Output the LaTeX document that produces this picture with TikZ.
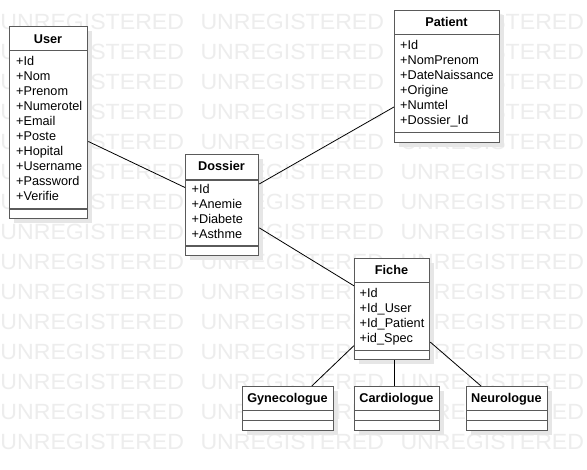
\documentclass[tikz,border=0pt]{standalone}
\usepackage{fontspec}
\setmainfont{Liberation Sans}
\usetikzlibrary{calc}
\definecolor{wmark}{HTML}{EDEDED}
\definecolor{shadowc}{HTML}{E6E6E6}
\definecolor{borderc}{HTML}{5A5A5A}
\tikzset{
  umlbox/.style={draw=borderc, line width=1.3pt, fill=white, rectangle, inner sep=0pt, anchor=north west},
  sepline/.style={draw=borderc, line width=1.3pt},
  shadowbox/.style={fill=shadowc},
  umltitle/.style={font=\fontsize{12.7}{15}\selectfont\bfseries, inner sep=0pt, anchor=base},
  umlattr/.style={font=\fontsize{12.7}{15}\selectfont, inner sep=0pt, anchor=base west},
  wmtext/.style={font=\fontsize{22}{22}\selectfont, text=wmark, inner sep=0pt, anchor=base west},
  assoc/.style={draw=black, line width=0.8pt}
}
\begin{document}
\begin{tikzpicture}[x=1pt,y=-1pt]
\useasboundingbox (0,0) rectangle (587,470);
\fill[white] (0,0) rectangle (587,470);
% watermark
\foreach \r in {0,...,14}{
  \foreach \c [count=\j] in {0.3,200.3,400.3}{
    \node[wmtext] (wm-\r-\j) at (\c,{29.5+30*\r}) {\scalebox{1.05}[1]{UNREGISTERED}};
  }
}
% ---------- boxes: shadow, frame, separators
% User
\fill[shadowbox] (14,31) rectangle (92,223);
\node[umlbox, minimum width=78pt, minimum height=192pt] (user) at (9,26) {};
\draw[sepline] (9,50.7) -- (87,50.7);
\draw[sepline] (9,209) -- (87,209);
% Patient
\fill[shadowbox] (399,15) rectangle (504,147);
\node[umlbox, minimum width=105pt, minimum height=132pt] (patient) at (394,10) {};
\draw[sepline] (394,34.3) -- (499,34.3);
\draw[sepline] (394,132.3) -- (499,132.3);
% Dossier
\fill[shadowbox] (190,159) rectangle (263,260);
\node[umlbox, minimum width=73pt, minimum height=101pt] (dossier) at (185,154) {};
\draw[sepline] (185,180) -- (258,180);
\draw[sepline] (185,246) -- (258,246);
% Fiche
\fill[shadowbox] (359,263) rectangle (434,364);
\node[umlbox, minimum width=75pt, minimum height=101pt] (fiche) at (354,258) {};
\draw[sepline] (354,282.7) -- (429,282.7);
\draw[sepline] (354,350.7) -- (429,350.7);
% Gynecologue
\fill[shadowbox] (247,391) rectangle (338,435);
\node[umlbox, minimum width=91pt, minimum height=44pt] (gyn) at (242,386) {};
\draw[sepline] (242,410.7) -- (333,410.7);
\draw[sepline] (242,420.3) -- (333,420.3);
% Cardiologue
\fill[shadowbox] (359,391) rectangle (444,435);
\node[umlbox, minimum width=85pt, minimum height=44pt] (cardio) at (354,386) {};
\draw[sepline] (354,410.7) -- (439,410.7);
\draw[sepline] (354,420.3) -- (439,420.3);
% Neurologue
\fill[shadowbox] (471,391) rectangle (552,435);
\node[umlbox, minimum width=81pt, minimum height=44pt] (neuro) at (466,386) {};
\draw[sepline] (466,410.7) -- (547,410.7);
\draw[sepline] (466,420.3) -- (547,420.3);
% ---------- connectors (center to center, clipped by borders)
\draw[assoc] (user) -- (dossier);
\draw[assoc] (dossier) -- (patient);
\draw[assoc] (dossier) -- (fiche);
\draw[assoc] (fiche) -- (gyn);
\draw[assoc] (fiche.south -| 394,0) -- (cardio.north -| 394,0);
\draw[assoc] (fiche) -- (neuro);
% ---------- titles
\node[umltitle] (user-t) at (48,43.3) {User};
\node[umltitle] (patient-t) at (446.5,26.7) {Patient};
\node[umltitle] (dossier-t) at (221.5,170.7) {Dossier};
\node[umltitle] (fiche-t) at (391.5,275) {Fiche};
\node[umltitle] (gyn-t) at (287.5,402.7) {Gynecologue};
\node[umltitle] (cardio-t) at (396.5,402.7) {Cardiologue};
\node[umltitle] (neuro-t) at (506.5,402.7) {Neurologue};
% ---------- attributes
\foreach \t [count=\i] in {+Id,+Nom,+Prenom,+Numerotel,+Email,+Poste,+Hopital,+Username,+Password,+Verifie}
  \node[umlattr] (user-a\i) at (16,{65.7+15*(\i-1)}) {\t};
\foreach \t [count=\i] in {+Id,+NomPrenom,+DateNaissance,+Origine,+Numtel,+Dossier\_Id}
  \node[umlattr] (patient-a\i) at (400,{50+15*(\i-1)}) {\t};
\foreach \t [count=\i] in {+Id,+Anemie,+Diabete,+Asthme}
  \node[umlattr] (dossier-a\i) at (191.5,{193.3+15*(\i-1)}) {\t};
\foreach \t [count=\i] in {+Id,+Id\_User,+Id\_Patient,+id\_Spec}
  \node[umlattr] (fiche-a\i) at (359.5,{297.3+15*(\i-1)}) {\t};
\end{tikzpicture}
\end{document}
